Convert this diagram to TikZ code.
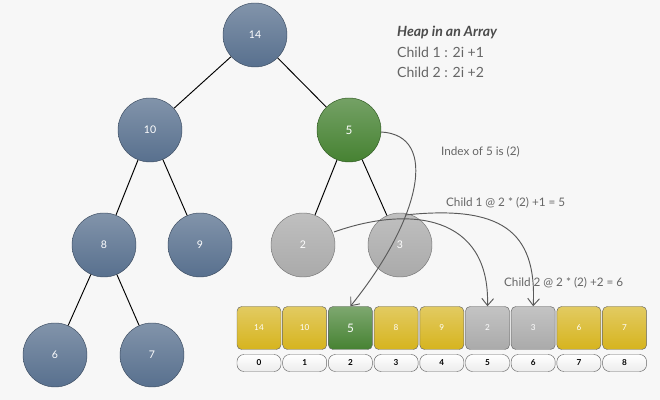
\documentclass[tikz,border=0pt]{standalone}
\usepackage{fontspec}
\setmainfont{Lato}
\usetikzlibrary{positioning}
\usetikzlibrary{arrows.meta}

\definecolor{slate}{RGB}{88,112,142}
\definecolor{leaf}{RGB}{70,130,50}
\definecolor{ash}{RGB}{170,170,170}
\definecolor{gold}{RGB}{214,180,30}

\tikzset{
  heap/.style={draw=#1!70!black, circle, minimum size=64*0.03cm, inner sep=0pt,
    top color=#1!75!white, bottom color=#1, text=white, font=\small},
  cell/.style={draw=gray!80!black, rounded corners=4pt, minimum width=44*0.03cm,
    minimum height=43*0.03cm, inner sep=0pt, top color=#1!70!white, bottom color=#1,
    text=white, font=\scriptsize},
  idx/.style={draw=gray!80!black, rounded corners=6pt, minimum width=44*0.03cm,
    minimum height=17*0.03cm, inner sep=0pt, top color=white, bottom color=gray!15,
    font=\scriptsize\bfseries},
  edge/.style={draw, thick},
  point/.style={draw=black!65, thick, -{Straight Barb[length=6pt,width=10pt]}},
  note/.style={anchor=west, text=black!60}
}

\begin{document}
\begin{tikzpicture}[x=0.03cm, y=-0.03cm]
  \fill[gray!6] (0,0) rectangle (660,400);
  \useasboundingbox (0,0) rectangle (660,400);

  \node[heap=slate] (14) at (255,35) {14};

  \node[heap=slate] (10) at (150,130) {10};
  \node[heap=leaf, font=\normalsize] (5) at (349,130) {5};

  \node[heap=slate] (8) at (104,245) {8};
  \node[heap=slate] (9) at (200,245) {9};
  \node[heap=ash] (2) at (303,245) {2};
  \node[heap=ash] (3) at (400,245) {3};

  \node[heap=slate] (6) at (55,355) {6};
  \node[heap=slate] (7) at (152,355) {7};

  \path[edge] (14) -- (10);
  \path[edge] (14) -- (5);
  \path[edge] (10) -- (8);
  \path[edge] (10) -- (9);
  \path[edge] (5) -- (2);
  \path[edge] (5) -- (3);
  \path[edge] (8) -- (6);
  \path[edge] (8) -- (7);

  % array
  \foreach \v/\c/\f [count=\i from 0] in {14/gold/\scriptsize,10/gold/\scriptsize,
      5/leaf/\normalsize,8/gold/\scriptsize,9/gold/\scriptsize,2/ash/\scriptsize,
      3/ash/\scriptsize,6/gold/\scriptsize,7/gold/\scriptsize} {
    \node[cell=\c, font=\f] (a\i) at (259+45.7*\i,328) {\v};
    \node[idx] (i\i) at (259+45.7*\i,363) {\i};
  }

  \node[note, font=\large\bfseries\itshape, text=black!70] (title) at (393,32) {Heap in an Array};
  \node[note, font=\large] (c1) at (393,52) {Child 1 : 2i +1};
  \node[note, font=\large] (c2) at (393,72) {Child 2 : 2i +2};

  \node[note, font=\normalsize] (n1) at (437,152) {Index of 5 is (2)};
  \node[note, font=\normalsize] (n2) at (442,203) {Child 1 @ 2 * (2) +1 = 5};
  \node[note, font=\normalsize] (n3) at (500,283) {Child 2 @ 2 * (2) +2 = 6};

  \coordinate (s5) at (381,132);
  \coordinate (s2) at (334,232);
  \coordinate (s3) at (405,215);
  \draw[point] (s5) .. controls (440,135) and (420,220) .. (a2.north);
  \draw[point] (s2) .. controls (410,205) and (490,215) .. (a5.north);
  \draw[point] (s3) .. controls (500,205) and (537,230) .. (a6.north);
\end{tikzpicture}
\end{document}
